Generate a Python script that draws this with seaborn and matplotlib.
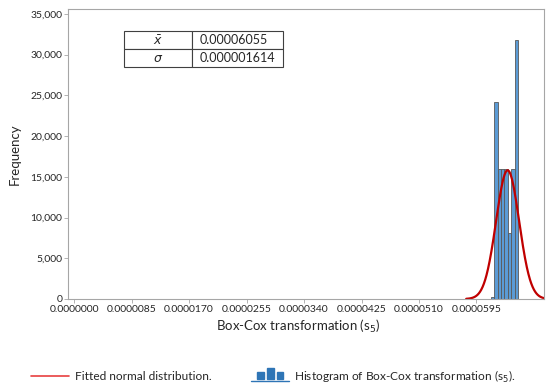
import numpy as np
import pandas as pd
import matplotlib.pyplot as plt
from matplotlib.patches import Rectangle
from matplotlib.lines import Line2D
from matplotlib.legend_handler import HandlerBase
from matplotlib.ticker import FuncFormatter
import seaborn as sns

sns.set_style("white")
plt.rcParams['font.family'] = ['Lato', 'DejaVu Sans']
plt.rcParams['mathtext.fontset'] = 'dejavusans'

# histogram of the Box-Cox transformed values (bins)
bin_edges = [6.163e-5, 6.213e-5, 6.263e-5, 6.313e-5, 6.363e-5,
             6.413e-5, 6.463e-5, 6.513e-5, 6.563e-5]
bin_counts = [300, 24200, 16000, 16000, 16000, 8100, 16000, 31800]

# fitted normal curve as drawn
fit_mean = 6.41e-5
fit_sigma = 1.7e-6
fit_peak = 15800

x_ticks = [0.0, 8.5e-6, 1.7e-5, 2.55e-5, 3.4e-5, 4.25e-5, 5.1e-5, 5.95e-5]
y_ticks = [0, 5000, 10000, 15000, 20000, 25000, 30000, 35000]

table_rows = [[r'$\bar{x}$', '0.00006055'],
              [r'$\sigma$', '0.000001614']]

bar_color = '#5B9BD5'
edge_color = '#595959'
curve_color = '#C00000'

centers = [(a + b) / 2 for a, b in zip(bin_edges[:-1], bin_edges[1:])]
hist_df = pd.DataFrame({'value': centers, 'count': bin_counts})

xlim = (-8.9e-7, 6.948e-5)
xs = np.linspace(fit_mean - 3.6 * fit_sigma, xlim[1], 300)
curve_df = pd.DataFrame({'x': xs,
                         'y': fit_peak * np.exp(-0.5 * ((xs - fit_mean) / fit_sigma) ** 2)})

fig = plt.figure(figsize=(5.5, 3.91), dpi=100)
ax = fig.add_axes([68 / 550, 1 - 299 / 391, 476 / 550, 290 / 391])

sns.histplot(data=hist_df, x='value', weights='count', bins=bin_edges, ax=ax,
             color=bar_color, edgecolor=edge_color, linewidth=0.6, alpha=1)
sns.lineplot(data=curve_df, x='x', y='y', ax=ax, color=curve_color, linewidth=1.6)

ax.set_xlim(*xlim)
ax.set_ylim(0, 35600)
ax.set_xticks(x_ticks)
ax.set_yticks(y_ticks)
ax.xaxis.set_major_formatter(FuncFormatter(lambda v, p: f"{v:.7f}"))
ax.yaxis.set_major_formatter(FuncFormatter(lambda v, p: f"{int(v):,}"))
ax.tick_params(axis='both', labelsize=7.5, length=3, width=0.6, color='#A6A6A6',
               direction='out', pad=1, left=True, bottom=True)
for s in ax.spines.values():
    s.set_color('#A6A6A6')
    s.set_linewidth(0.8)

ax.set_xlabel('Box-Cox transformation (s$_5$)', fontsize=9.5, labelpad=4)
ax.xaxis.set_label_coords(0.483, -0.065)
ax.set_ylabel('Frequency', fontsize=9.5, labelpad=7)

tbl = ax.table(cellText=table_rows, colWidths=[0.428, 0.572],
               bbox=[0.1176, 0.80, 0.334, 0.124])
tbl.auto_set_font_size(False)
for (r, c), cell in tbl.get_celld().items():
    cell.set_linewidth(0.8)
    cell.set_edgecolor('#404040')
    cell.get_text().set_fontsize(9)
    if c == 1:
        cell.get_text().set_ha('left')
        cell.PAD = 0.08
    else:
        cell.get_text().set_ha('center')


class HistIcon(HandlerBase):
    def create_artists(self, legend, orig, xd, yd, w, h, fontsize, trans):
        arts = []
        heights = [0.65, 1.05, 0.7]
        for i, hh in enumerate(heights):
            x0 = xd + w * (0.18 + i * 0.25)
            arts.append(Rectangle((x0, yd + 0.05 * h), w * 0.17, h * hh,
                                  color='#2E75B6', transform=trans))
        arts.append(Line2D([xd, xd + w], [yd - 0.12 * h, yd - 0.12 * h],
                           color='#2E75B6', lw=1.0, transform=trans))
        return arts


red_handle = Line2D([], [], color='#E84040', lw=1.2)
hist_handle = Rectangle((0, 0), 1, 1)
fig.legend([red_handle, hist_handle],
           ['Fitted normal distribution.', 'Histogram of Box-Cox transformation (s$_5$).'],
           handler_map={Rectangle: HistIcon()}, loc='center', ncol=2,
           bbox_to_anchor=(0.497, 0.037), frameon=False, fontsize=8.6,
           handlelength=3.2, handleheight=0.95, handletextpad=0.45,
           columnspacing=3.3)

fig.savefig('out.png', dpi=100)
